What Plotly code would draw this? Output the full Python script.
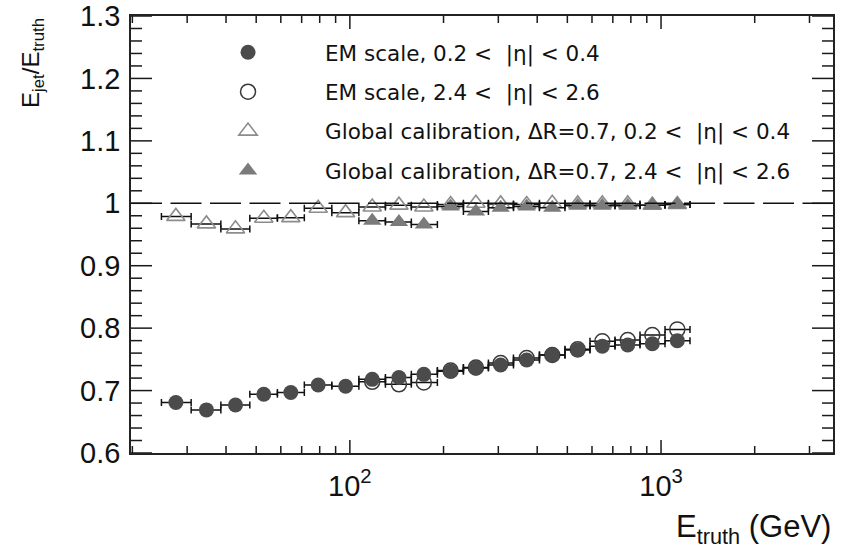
import math
import plotly.graph_objects as go

# ---------------- data ----------------
E_truth = [27.6, 34.6, 42.9, 52.9, 64.6, 79.1, 96.9, 118, 143.8, 172.9,
           210.8, 254.1, 305.2, 370, 447.2, 539.8, 647.6, 781.6, 937.6, 1128]
bin_edges = [24.8, 30.9, 38.5, 47.7, 58.5, 71.4, 87.5, 106.9, 130.1, 157.6, 191.1,
             231.7, 278.8, 335.6, 406.7, 491.3, 591.1, 711.4, 855.9, 1030, 1239]

em_central = [0.681, 0.669, 0.677, 0.694, 0.697, 0.709, 0.707, 0.718, 0.721, 0.726,
              0.731, 0.736, 0.741, 0.749, 0.757, 0.765, 0.771, 0.773, 0.775, 0.780]
em_forward = [0.714, 0.710, 0.713, 0.732, 0.737, 0.744, 0.752, 0.757, 0.766,
              0.779, 0.781, 0.789, 0.798]
gc_central = [0.979, 0.967, 0.959, 0.976, 0.977, 0.992, 0.985, 0.994, 0.997, 0.994,
              0.998, 1.000, 0.999, 0.998, 1.000, 0.999, 0.999, 0.999, 0.997, 0.998]
gc_forward = [0.972, 0.970, 0.966, 0.995, 0.987, 0.993, 0.995, 0.993, 0.996,
              0.996, 0.996, 0.997, 0.998]
forward_start = 7  # forward-region series start at the 8th bin

labels = ["EM scale, 0.2 <  |η| < 0.4",
          "EM scale, 2.4 <  |η| < 2.6",
          "Global calibration, ΔR=0.7, 0.2 <  |η| < 0.4",
          "Global calibration, ΔR=0.7, 2.4 <  |η| < 2.6"]

x_tickvals = [100, 1000]
x_ticktext = ["10<sup>2</sup>", "10<sup>3</sup>"]
x_minor = [20, 30, 40, 50, 60, 70, 80, 90, 200, 300, 400, 500, 600, 700, 800, 900, 2000, 3000]
y_tickvals = [0.6, 0.7, 0.8, 0.9, 1.0, 1.1, 1.2, 1.3]
y_ticktext = ["0.6", "0.7", "0.8", "0.9", "1", "1.1", "1.2", "1.3"]
y_minor_step = 0.02

# ---------------- derived error bars (bin widths) ----------------
err_plus = [bin_edges[i + 1] - E_truth[i] for i in range(len(E_truth))]
err_minus = [E_truth[i] - bin_edges[i] for i in range(len(E_truth))]

FONT = "Liberation Sans, Arial, Helvetica, sans-serif"
LFONT = "DejaVu Sans, Liberation Sans, sans-serif"


def xerr(sl):
    return dict(type="data", symmetric=False, array=err_plus[sl], arrayminus=err_minus[sl],
                color="#111111", thickness=1.5, width=3.5)


fwd = slice(forward_start, None)
full = slice(0, None)

fig = go.Figure()

# draw order: open circles, filled circles, open triangles, filled triangles
fig.add_trace(go.Scatter(
    x=E_truth[fwd], y=em_forward, mode="markers", name=labels[1], legendrank=2,
    legendgroup="b",
    marker=dict(symbol="circle-open", size=15, color="#3a3a3a", line=dict(width=1.5)),
    error_x=xerr(fwd)))
fig.add_trace(go.Scatter(
    x=E_truth[full], y=em_central, mode="markers", name=labels[0], legendrank=1,
    legendgroup="a",
    marker=dict(symbol="circle", size=15, color="#4b4b4b", line=dict(width=0)),
    error_x=xerr(full)))
fig.add_trace(go.Scatter(
    x=E_truth[full], y=gc_central, mode="markers", name=labels[2], legendrank=3,
    legendgroup="c",
    marker=dict(symbol="triangle-up-open", size=16, color="#8c8c8c", line=dict(width=1.6)),
    error_x=xerr(full)))
fig.add_trace(go.Scatter(
    x=E_truth[fwd], y=gc_forward, mode="markers", name=labels[3], legendrank=4,
    legendgroup="d",
    marker=dict(symbol="triangle-up", size=16, color="#7b7b7b", line=dict(width=0)),
    error_x=xerr(fwd)))

# ---------------- inside ticks on all four sides (drawn at axis values) ----------------
W, H = 841, 549
ML, MR, MT, MB = 131, 8, 16, 96
plot_w, plot_h = W - ML - MR, H - MT - MB
tick_col = "#1a1a1a"
shapes = []


def xtick(v, length_px):
    f = length_px / plot_h
    for y0, y1 in ((0, f), (1, 1 - f)):
        shapes.append(dict(type="line", xref="x", yref="y domain", x0=v, x1=v, y0=y0, y1=y1,
                           layer="above", line=dict(color=tick_col, width=1.5)))


def ytick(v, length_px):
    f = length_px / plot_w
    for x0, x1 in ((0, f), (1, 1 - f)):
        shapes.append(dict(type="line", xref="x domain", yref="y", x0=x0, x1=x1, y0=v, y1=v,
                           layer="above", line=dict(color=tick_col, width=1.5)))


for v in x_tickvals:
    xtick(v, 13)
for v in x_minor:
    xtick(v, 7)
for v in y_tickvals:
    ytick(v, 21)
n_minor = int(round((y_tickvals[-1] - y_tickvals[0]) / y_minor_step))
for k in range(n_minor + 1):
    v = round(y_tickvals[0] + k * y_minor_step, 4)
    if all(abs(v - t) > 1e-6 for t in y_tickvals):
        ytick(v, 11)

# reference line at 1
shapes.append(dict(type="line", xref="paper", yref="y", x0=0, x1=1, y0=1, y1=1,
                   layer="above", line=dict(color="#111111", width=1.5, dash="31px,8.5px")))

axis_color = "#222222"
fig.update_layout(
    template="none",
    width=W, height=H,
    margin=dict(l=ML, r=MR, t=MT, b=MB),
    paper_bgcolor="white", plot_bgcolor="rgba(0,0,0,0)",
    font=dict(family=FONT, color="#111111"),
    showlegend=True,
    legend=dict(x=0.057, y=0.964, xanchor="left", yanchor="top",
                bgcolor="rgba(0,0,0,0)", borderwidth=0,
                font=dict(size=21.5, family=LFONT, color="#111111"),
                itemwidth=144, tracegroupgap=8.5, traceorder="grouped",
                itemclick=False),
    xaxis=dict(type="log", range=[math.log10(19.8), math.log10(3570)],
               tickmode="array", tickvals=x_tickvals, ticktext=x_ticktext, ticks="",
               showline=True, linecolor=axis_color, linewidth=1.5, mirror=True,
               showgrid=False, zeroline=False, ticklabelstandoff=6,
               tickfont=dict(size=29, family=FONT, color="#111111")),
    yaxis=dict(range=[0.6, 1.3], tickmode="array", tickvals=y_tickvals, ticktext=y_ticktext,
               ticks="", showline=True, linecolor=axis_color, linewidth=1.5, mirror=True,
               showgrid=False, zeroline=False, ticklabelstandoff=3,
               tickfont=dict(size=29, family=FONT, color="#111111")),
    shapes=shapes,
    annotations=[
        dict(text="E<sub>truth</sub> (GeV)", xref="paper", yref="paper", x=1, y=0,
             xanchor="right", yanchor="top", yshift=-54, showarrow=False,
             font=dict(size=31, family=FONT, color="#111111")),
        dict(text="E<sub>jet</sub>/E<sub>truth</sub>", xref="paper", yref="paper",
             x=0, y=1, xanchor="center", yanchor="top", xshift=-99, yshift=0,
             textangle=-90, showarrow=False,
             font=dict(size=24, family=FONT, color="#111111")),
    ],
)

fig.write_html("out.html")
